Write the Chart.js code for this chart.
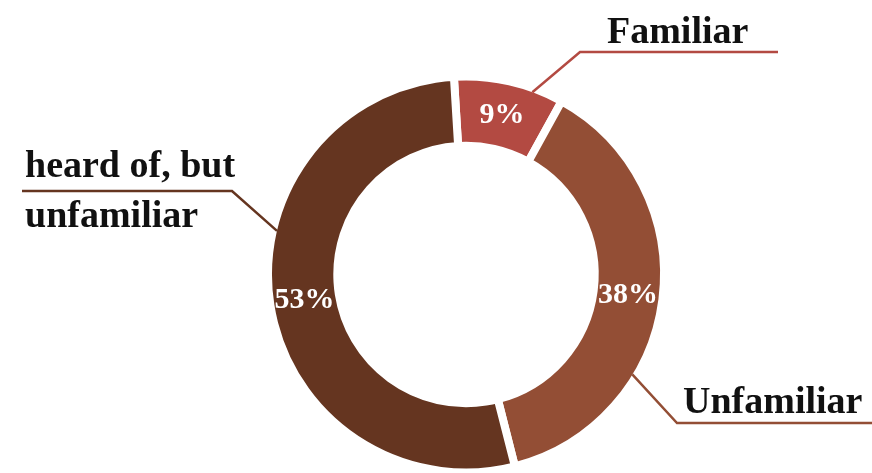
<!DOCTYPE html>
<html>
<head>
<meta charset="utf-8">
<script src="https://cdn.jsdelivr.net/npm/chart.js@4.4.1/dist/chart.umd.min.js"></script>
<style>
    html, body { margin: 0; padding: 0; background: #ffffff; overflow: hidden; }
    #wrap { width: 872px; height: 473px; position: relative; }
</style>
</head>
<body>
<div id="wrap"><canvas id="awarenessChart"></canvas></div>
<script>
const categories = ["Familiar", "Unfamiliar", "heard of, but unfamiliar"];
const shares = [9, 38, 53];
const labelLines = [["Familiar"], ["Unfamiliar"], ["heard of, but", "unfamiliar"]];

const sliceColors = ["#b34a42", "#934e35", "#653520"];
const serif = "'Liberation Serif', 'DejaVu Serif', serif";

// where each callout leaves the ring and where its text sits
const callouts = [
    { angle: 20,  elbow: [580, 52],  end: [778, 52],  textX: 607, baselines: [43] },
    { angle: 121, elbow: [677, 423], end: [872, 423], textX: 683, baselines: [413] },
    { angle: 283, elbow: [232, 191], end: [22, 191],  textX: 25,  baselines: [177, 227] }
];

const ringLabels = {
    id: "ringLabels",
    afterDatasetsDraw(chart) {
        const ctx = chart.ctx;
        const meta = chart.getDatasetMeta(0);

        ctx.save();
        meta.data.forEach((arc, i) => {
            // percentage inside the slice
            const c = arc.getCenterPoint();
            ctx.fillStyle = "#ffffff";
            ctx.font = "bold 30px " + serif;
            ctx.textAlign = "center";
            ctx.textBaseline = "middle";
            ctx.fillText(shares[i] + "%", c.x, c.y);

            // leader line from the outer edge
            const co = callouts[i];
            const a = (co.angle - 90) * Math.PI / 180;
            const r = arc.outerRadius - 4;
            ctx.strokeStyle = sliceColors[i];
            ctx.lineWidth = 2.5;
            ctx.beginPath();
            ctx.moveTo(arc.x + r * Math.cos(a), arc.y + r * Math.sin(a));
            ctx.lineTo(co.elbow[0], co.elbow[1]);
            ctx.lineTo(co.end[0], co.end[1]);
            ctx.stroke();

            ctx.fillStyle = "#111111";
            ctx.font = "bold 38px " + serif;
            ctx.textAlign = "left";
            ctx.textBaseline = "alphabetic";
            labelLines[i].forEach((line, j) => {
                ctx.fillText(line, co.textX, co.baselines[j]);
            });
        });
        ctx.restore();
    }
};

new Chart(document.getElementById("awarenessChart"), {
    type: "doughnut",
    data: {
        labels: categories,
        datasets: [{
            data: shares,
            backgroundColor: sliceColors,
            borderColor: "#ffffff",
            borderWidth: 8
        }]
    },
    options: {
        responsive: true,
        maintainAspectRatio: false,
        animation: false,
        events: [],
        rotation: -3.5,
        radius: 198,
        cutout: "65%",
        layout: { padding: { left: 60, right: 0, top: 76, bottom: 0 } },
        plugins: {
            legend: { display: false },
            tooltip: { enabled: false }
        }
    },
    plugins: [ringLabels]
});
</script>
</body>
</html>
